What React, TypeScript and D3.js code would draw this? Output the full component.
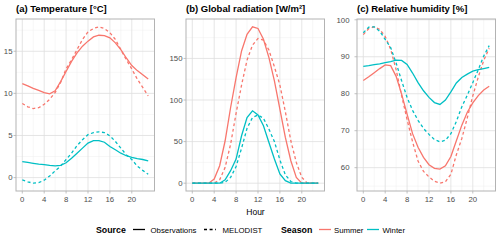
import React from "react";
import * as d3 from "d3";

const hours = [0,1,2,3,4,5,6,7,8,9,10,11,12,13,14,15,16,17,18,19,20,21,22,23];

const tempSummerObs = [11.15,10.9,10.6,10.35,10.1,9.95,10.3,11.4,12.6,13.8,14.8,15.6,16.2,16.7,16.9,16.85,16.6,16.0,15.2,14.2,13.3,12.7,12.2,11.7];
const tempSummerMel = [8.8,8.4,8.2,8.3,8.7,9.3,10.1,11.3,12.9,14.0,15.2,16.4,17.3,17.7,17.9,17.7,17.2,16.4,15.2,14.0,12.9,11.7,10.7,9.7];
const tempWinterObs = [1.9,1.8,1.7,1.6,1.55,1.45,1.4,1.45,1.76,2.3,2.9,3.5,4.1,4.4,4.4,4.2,3.7,3.3,2.9,2.6,2.4,2.25,2.15,2.0];
const tempWinterMel = [-0.27,-0.5,-0.66,-0.6,-0.3,0.2,0.8,1.37,2.15,2.9,3.8,4.5,5.1,5.35,5.43,5.35,4.96,4.3,3.5,2.7,2.15,1.37,0.86,0.4];

const radSummerObs = [0,0,0,0,5,21,51,91,127,159,179,188,186,173,151,123,89,55,27,7,0,0,0,0];
const radSummerMel = [0,0,0,0,0,4,19,47,84,118,148,166,174,172,160,140,118,86,51,25,7,0,0,0];
const radWinterObs = [0,0,0,0,0,0,4,15,29,57,79,87,82,69,49,29,11,3,0,0,0,0,0,0];
const radWinterMel = [0,0,0,0,0,0,1,7,20,42,66,79,82,78,65,50,28,10,2,0,0,0,0,0];

const rhSummerObs = [83.6,84.6,85.7,86.8,87.8,87.6,84.7,79.9,74.5,69.2,65.5,62.8,60.8,59.8,59.6,60.5,63.0,67.3,71.5,75.0,77.5,79.5,81.0,82.0];
const rhSummerMel = [96.0,97.6,98.1,97.4,95.5,92.0,86.5,79.5,73.0,67.0,61.8,59.0,57.5,56.3,55.8,56.2,58.2,63.5,67.9,73.5,79.4,84.5,89.0,92.3];
const rhWinterObs = [87.4,87.6,87.9,88.1,88.4,88.7,89.1,89.0,87.9,85.6,83.0,80.8,79.0,77.6,77.1,78.3,80.5,82.9,84.4,85.3,86.1,86.5,86.8,87.1];
const rhWinterMel = [96.5,98.0,98.1,96.9,94.7,92.5,88.3,83.5,79.0,75.5,72.8,70.6,69.0,67.6,67.0,67.4,69.2,72.5,76.5,79.6,83.0,86.5,90.2,93.0];

const panelTitles = ["(a) Temperature [°C]", "(b) Global radiation [W/m²]", "(c) Relative humidity [%]"];
const yTicksList = [[0,5,10,15],[0,50,100,150],[60,70,80,90,100]];
const xTicks = [0,4,8,12,16,20];
const xMinor = [2,6,10,14,18,22];
const seasons = ["Summer","Winter"];
const sources = ["Observations","MELODIST"];

const panelData = [
  [tempSummerObs,tempSummerMel,tempWinterObs,tempWinterMel],
  [radSummerObs,radSummerMel,radWinterObs,radWinterMel],
  [rhSummerObs,rhSummerMel,rhWinterObs,rhWinterMel],
];

const colors: Record<string,string> = { Summer: "#F8766D", Winter: "#00BFC4" };
const FONT = "'Liberation Sans', Arial, sans-serif";
const DASH = "3,2.6";

const panelLeft = [16, 186, 357];
const panelW = 138.5;
const panelTop = 19;
const panelBottom = 191;
const labelGap = [3.5, 3.5, 7.5];

function Panel({ idx }: { idx: number }) {
  const series = panelData[idx];
  const all = series.flat();
  const [mn, mx] = d3.extent(all) as [number, number];
  const pad = (mx - mn) * 0.05;
  const y = d3.scaleLinear().domain([mn - pad, mx + pad]).range([panelBottom, panelTop]);
  const x = d3.scaleLinear().domain([-1.15, 24.15]).range([panelLeft[idx], panelLeft[idx] + panelW]);
  const yTicks = yTicksList[idx];
  const step = yTicks[1] - yTicks[0];
  const yMinor: number[] = [];
  for (const t of [yTicks[0] - step, ...yTicks]) {
    const m = t + step / 2;
    if (m > mn - pad && m < mx + pad) yMinor.push(m);
  }
  const line = d3.line<number>().x((_, i) => x(hours[i])).y((d) => y(d));
  const combos = [
    { season: "Summer", source: "Observations" },
    { season: "Summer", source: "MELODIST" },
    { season: "Winter", source: "Observations" },
    { season: "Winter", source: "MELODIST" },
  ];
  const L = panelLeft[idx], R = panelLeft[idx] + panelW;
  return (
    <g>
      <text x={L} y={12} fontFamily={FONT} fontWeight="bold" fontSize={9.5} fill="#000">{panelTitles[idx]}</text>
      <rect x={L} y={panelTop} width={panelW} height={panelBottom - panelTop} fill="#fff" />
      {yMinor.map((t) => (
        <line key={"ym" + t} x1={L} x2={R} y1={y(t)} y2={y(t)} stroke="#EFEFEF" strokeWidth={0.5} />
      ))}
      {xMinor.map((t) => (
        <line key={"xm" + t} x1={x(t)} x2={x(t)} y1={panelTop} y2={panelBottom} stroke="#EFEFEF" strokeWidth={0.5} />
      ))}
      {yTicks.map((t) => (
        <line key={"yM" + t} x1={L} x2={R} y1={y(t)} y2={y(t)} stroke="#DEDEDE" strokeWidth={0.8} />
      ))}
      {xTicks.map((t) => (
        <line key={"xM" + t} x1={x(t)} x2={x(t)} y1={panelTop} y2={panelBottom} stroke="#DEDEDE" strokeWidth={0.8} />
      ))}
      {combos.map((c, i) => (
        <path key={i} d={line(series[i]) || ""} fill="none" stroke={colors[c.season]} strokeWidth={1.3}
          strokeDasharray={c.source === "MELODIST" ? DASH : undefined} />
      ))}
      <rect x={L} y={panelTop} width={panelW} height={panelBottom - panelTop} fill="none" stroke="#B3B3B3" strokeWidth={1} />
      {yTicks.map((t) => (
        <g key={"yl" + t}>
          <line x1={L - 2.5} x2={L} y1={y(t)} y2={y(t)} stroke="#B3B3B3" strokeWidth={0.8} />
          <text x={L - labelGap[idx]} y={y(t)} dy="0.35em" textAnchor="end" fontFamily={FONT} fontSize={7.8} fill="#4D4D4D">{t}</text>
        </g>
      ))}
      {xTicks.map((t) => (
        <g key={"xl" + t}>
          <line x1={x(t)} x2={x(t)} y1={panelBottom} y2={panelBottom + 2.5} stroke="#B3B3B3" strokeWidth={0.8} />
          <text x={x(t)} y={201.5} textAnchor="middle" fontFamily={FONT} fontSize={7.8} fill="#4D4D4D">{t}</text>
        </g>
      ))}
    </g>
  );
}

export default function App() {
  const ly = 229.5;
  return (
    <svg width={500} height={240} style={{ position: "absolute", left: 0, top: 0 }}>
      <rect width={500} height={240} fill="#fff" />
      {[0, 1, 2].map((i) => <Panel key={i} idx={i} />)}
      <text x={255.5} y={215} textAnchor="middle" fontFamily={FONT} fontSize={8.5} fill="#000">Hour</text>
      <g fontFamily={FONT}>
        <text x={96} y={ly + 3} fontWeight="bold" fontSize={8.8}>Source</text>
        <line x1={133} x2={145} y1={ly} y2={ly} stroke="#000" strokeWidth={1.3} />
        <text x={150.5} y={ly + 3} fontSize={7.8}>{sources[0]}</text>
        <line x1={204} x2={216} y1={ly} y2={ly} stroke="#000" strokeWidth={1.3} strokeDasharray={DASH} />
        <text x={222.5} y={ly + 3} fontSize={7.8}>{sources[1]}</text>
        <text x={281} y={ly + 3} fontWeight="bold" fontSize={8.8}>Season</text>
        <line x1={319} x2={331} y1={ly} y2={ly} stroke={colors[seasons[0]]} strokeWidth={1.3} />
        <text x={334} y={ly + 3} fontSize={7.8}>{seasons[0]}</text>
        <line x1={367} x2={379} y1={ly} y2={ly} stroke={colors[seasons[1]]} strokeWidth={1.3} />
        <text x={382.5} y={ly + 3} fontSize={7.8}>{seasons[1]}</text>
      </g>
    </svg>
  );
}
